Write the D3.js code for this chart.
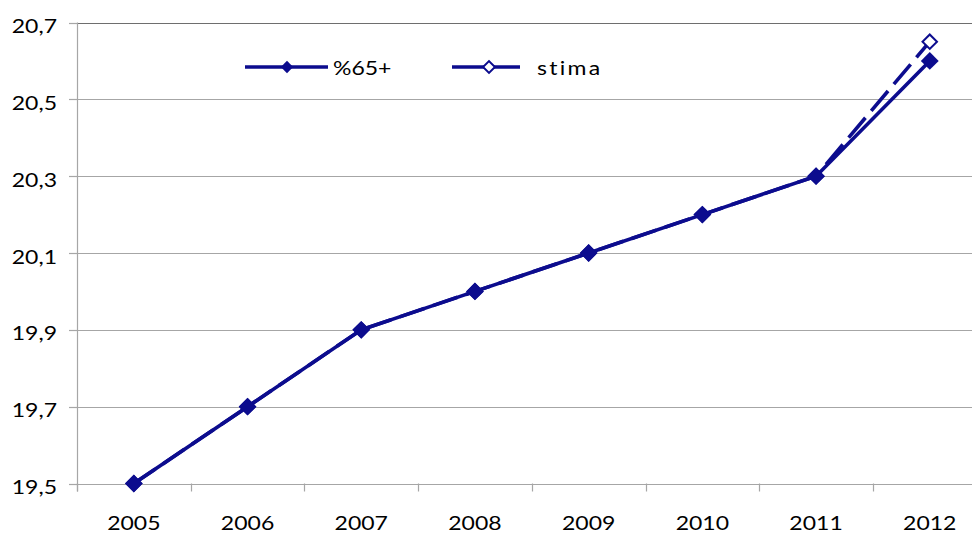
<!DOCTYPE html>
<html>
<head>
<meta charset="utf-8">
<script src="https://cdn.jsdelivr.net/npm/d3@7"></script>
<style>
  html, body { margin: 0; padding: 0; background: #fff; }
  svg { display: block; }
  text { font-family: Lato, "Open Sans", sans-serif; fill: #000; }
</style>
</head>
<body>
<svg id="chart" width="972" height="534"></svg>
<script>
// Share of population aged 65+ (%), observed and estimated
const years = ["2005", "2006", "2007", "2008", "2009", "2010", "2011", "2012"];
const pct65 = [19.5, 19.7, 19.9, 20.0, 20.1, 20.2, 20.3, 20.6];
const stima = [19.5, 19.7, 19.9, 20.0, 20.1, 20.2, 20.3, 20.65];
const yTicks = [19.5, 19.7, 19.9, 20.1, 20.3, 20.5, 20.7];
const seriesNames = ["%65+", "stima"];

const W = 972, H = 534;
const plotLeft = 77, plotTop = 22.5, plotBottom = 483.5, step = 113.7;
const navy = "#0c0c8e";
const sx = 1.15; // horizontal text stretch

const svg = d3.select("#chart");
const itFmt = d3.formatLocale({ decimal: ",", thousands: ".", grouping: [3], currency: ["", "€"] }).format(".1f");

const x = d3.scaleBand().domain(years).range([plotLeft, plotLeft + step * years.length]).padding(0);
const y = d3.scaleLinear().domain([19.5, 20.7]).range([plotBottom, plotTop]);

function stretchText(sel, px, py) {
  sel.attr("transform", `translate(${px},${py}) scale(${sx},1)`);
}

// horizontal gridlines
svg.append("g").selectAll("line").data(yTicks).join("line")
  .attr("x1", plotLeft).attr("x2", W)
  .attr("y1", d => Math.round(y(d)) + 0.5).attr("y2", d => Math.round(y(d)) + 0.5)
  .attr("stroke", d => d === 20.7 ? "#6e6e6e" : "#a6a6a6")
  .attr("stroke-width", 1.2);

// y axis line + ticks
svg.append("line").attr("x1", plotLeft + 0.5).attr("x2", plotLeft + 0.5)
  .attr("y1", plotTop).attr("y2", plotBottom + 8)
  .attr("stroke", "#a6a6a6").attr("stroke-width", 1.2);
svg.append("g").selectAll("line").data(yTicks).join("line")
  .attr("x1", plotLeft - 8).attr("x2", plotLeft)
  .attr("y1", d => Math.round(y(d)) + 0.5).attr("y2", d => Math.round(y(d)) + 0.5)
  .attr("stroke", "#a6a6a6").attr("stroke-width", 1.2);

// y labels
svg.append("g").selectAll("text").data(yTicks).join("text")
  .attr("text-anchor", "end")
  .attr("font-size", 20)
  .text(d => itFmt(d))
  .each(function (d) { stretchText(d3.select(this), 57, y(d) + 10.5); });

// x category boundary ticks
const bounds = years.map(d => x(d)).concat([x(years[years.length - 1]) + x.bandwidth()]);
svg.append("g").selectAll("line").data(bounds).join("line")
  .attr("x1", d => Math.round(d) + 0.5).attr("x2", d => Math.round(d) + 0.5)
  .attr("y1", plotBottom).attr("y2", plotBottom + 8)
  .attr("stroke", "#a6a6a6").attr("stroke-width", 1.2);

// x labels
svg.append("g").selectAll("text").data(years).join("text")
  .attr("text-anchor", "middle")
  .attr("font-size", 20)
  .text(d => d)
  .each(function (d) { stretchText(d3.select(this), x(d) + x.bandwidth() / 2, 530); });

const cx = d => x(d) + x.bandwidth() / 2;
const line = d3.line().x((d, i) => cx(years[i])).y(d => y(d));

// estimate (dashed, open markers)
svg.append("path").datum(stima)
  .attr("d", line)
  .attr("fill", "none").attr("stroke", navy).attr("stroke-width", 3.6)
  .attr("stroke-dasharray", "26,9");
svg.append("g").selectAll("path").data(stima).join("path")
  .attr("d", d3.symbol().type(d3.symbolSquare).size(105)())
  .attr("transform", (d, i) => `translate(${cx(years[i])},${y(d)}) rotate(45)`)
  .attr("fill", "#fff").attr("stroke", navy).attr("stroke-width", 2);

// observed (solid, filled markers)
svg.append("path").datum(pct65)
  .attr("d", line)
  .attr("fill", "none").attr("stroke", navy).attr("stroke-width", 3.6);
svg.append("g").selectAll("path").data(pct65).join("path")
  .attr("d", d3.symbol().type(d3.symbolSquare).size(160)())
  .attr("transform", (d, i) => `translate(${cx(years[i])},${y(d)}) rotate(45)`)
  .attr("fill", navy);

// legend
const lg = svg.append("g");
const legY = 67;
// %65+
lg.append("line").attr("x1", 245).attr("x2", 328).attr("y1", legY).attr("y2", legY)
  .attr("stroke", navy).attr("stroke-width", 3.6);
lg.append("path").attr("d", d3.symbol().type(d3.symbolSquare).size(76)())
  .attr("transform", `translate(287,${legY}) rotate(45)`).attr("fill", navy);
lg.append("text").attr("font-size", 20).text(seriesNames[0])
  .call(s => stretchText(s, 333, legY + 7.5));
// stima
lg.append("line").attr("x1", 452).attr("x2", 520).attr("y1", legY).attr("y2", legY)
  .attr("stroke", navy).attr("stroke-width", 3.6);
lg.append("path").attr("d", d3.symbol().type(d3.symbolSquare).size(70)())
  .attr("transform", `translate(489,${legY}) rotate(45)`)
  .attr("fill", "#fff").attr("stroke", navy).attr("stroke-width", 2);
lg.append("text").attr("font-size", 20).attr("letter-spacing", 2).text(seriesNames[1])
  .call(s => stretchText(s, 537, legY + 7.5));
</script>
</body>
</html>
